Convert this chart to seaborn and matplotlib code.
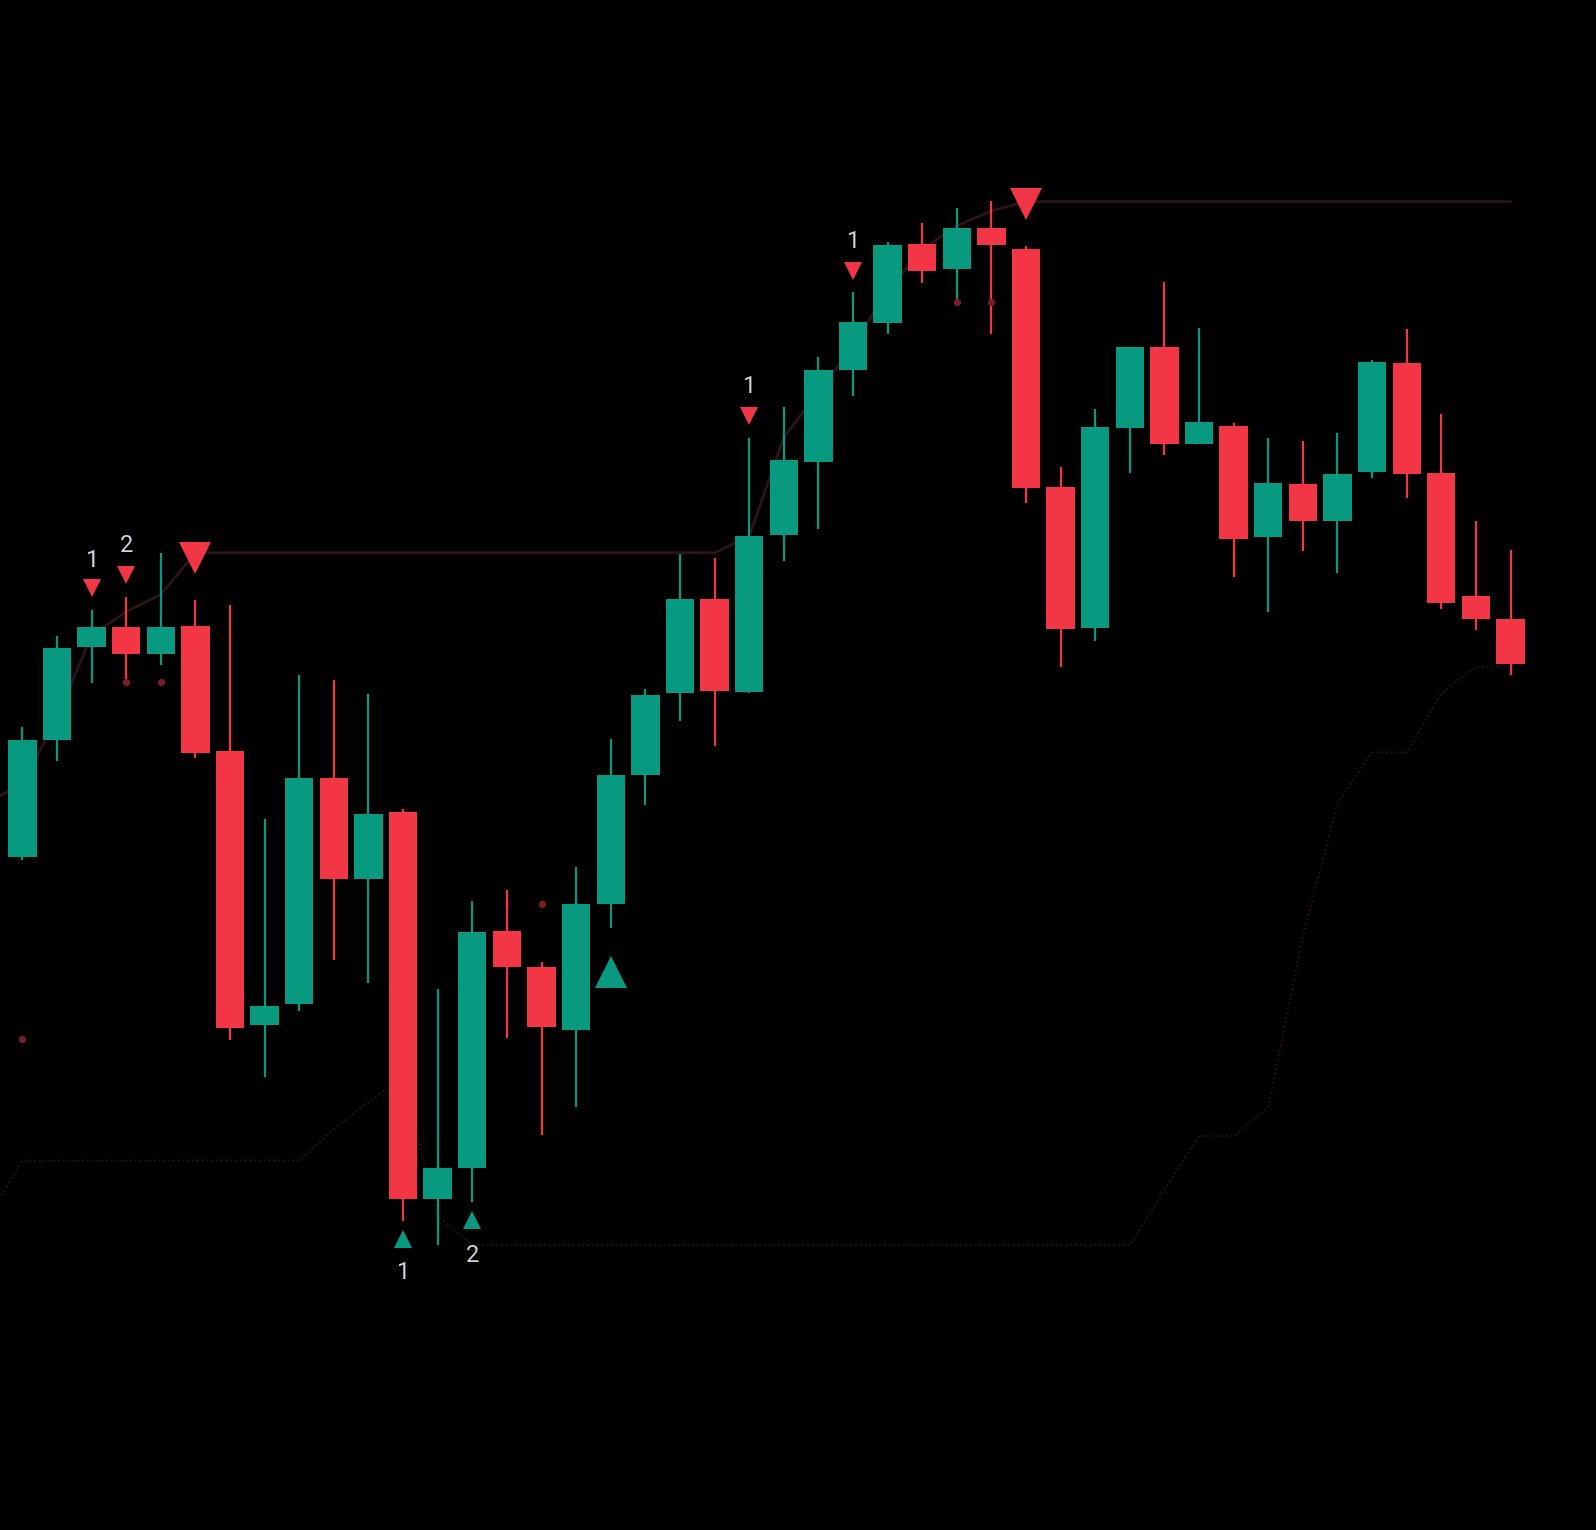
import numpy as np
import pandas as pd
import matplotlib
matplotlib.use("Agg")
import matplotlib.pyplot as plt
import seaborn as sns

# ================================
# Data
# ================================
opens = [66.1, 77.6, 86.7, 88.7, 86.1, 88.8, 76.5, 49.6, 51.7, 73.9,
         64.0, 70.5, 32.5, 35.6, 58.8, 55.3, 49.1, 61.5, 74.2, 82.2,
         91.5, 82.3, 97.7, 104.9, 114.0, 118.6, 126.3, 123.9, 127.9, 125.8,
         102.5, 88.6, 108.3, 116.2, 106.7, 108.5, 97.5, 102.8, 99.1, 103.9,
         114.6, 103.8, 91.8, 89.5]
highs = [78.9, 87.8, 90.4, 91.7, 96.0, 91.4, 90.9, 69.8, 84.0, 83.5,
         82.1, 70.8, 53.1, 61.8, 62.9, 55.8, 65.1, 77.7, 82.6, 95.9,
         95.5, 107.3, 110.3, 115.2, 121.6, 126.5, 128.4, 129.9, 130.6, 126.1,
         104.4, 110.1, 116.2, 122.6, 118.1, 108.7, 107.3, 107.0, 107.8, 114.9,
         118.0, 109.6, 99.1, 96.3]
lows = [65.8, 75.5, 83.2, 83.3, 85.0, 75.8, 48.1, 44.5, 51.0, 56.0,
        53.7, 30.4, 28.0, 32.2, 48.3, 38.8, 41.6, 59.1, 71.2, 79.5,
        77.0, 82.2, 95.2, 98.3, 111.4, 117.5, 122.5, 120.6, 117.5, 100.9,
        84.8, 87.3, 103.8, 105.6, 106.7, 93.6, 90.2, 96.2, 94.0, 103.3,
        101.4, 90.5, 88.4, 84.0]
closes = [77.6, 86.6, 88.7, 86.1, 88.7, 76.3, 49.3, 51.5, 73.9, 64.0,
          70.3, 32.5, 35.6, 58.7, 55.3, 49.4, 61.5, 74.2, 82.0, 91.5,
          82.4, 97.6, 105.1, 114.0, 118.7, 126.2, 123.7, 127.9, 126.2, 102.4,
          88.5, 108.4, 116.2, 106.7, 108.8, 97.4, 102.9, 99.1, 103.7, 114.7,
          103.7, 91.1, 89.5, 85.1]

# upper (resistance) and lower (support) trailing lines, index -1 .. 43
upper_line = [71.5, 73.3, 79.8, 87.9, 90.2, 91.9, 96.0, 96.0, 96.0, 96.0,
              96.0, 96.0, 96.0, 96.0, 96.0, 96.0, 96.0, 96.0, 96.0, 96.0,
              96.0, 96.0, 97.6, 107.3, 111.8, 116.3, 121.8, 125.8, 128.1, 129.6,
              130.5, 130.5, 130.5, 130.5, 130.5, 130.5, 130.5, 130.5, 130.5, 130.5,
              130.5, 130.5, 130.5, 130.5, 130.5]
lower_line = [30.6, 36.3, 36.3, 36.3, 36.3, 36.3, 36.3, 36.3, 36.3, 36.3,
              39.4, 42.0, 44.6, 30.8, 28.0, 28.0, 28.0, 28.0, 28.0, 28.0,
              28.0, 28.0, 28.0, 28.0, 28.0, 28.0, 28.0, 28.0, 28.0, 28.0,
              28.0, 28.0, 28.0, 28.0, 33.4, 38.7, 38.7, 41.5, 58.3, 71.4,
              76.4, 76.4, 82.2, 84.8, 84.8]

# pivot signals
small_sell_idx = [2, 3, 21, 24]
small_sell_y = [92.5, 93.8, 109.4, 123.7]
small_sell_txt = ["1", "2", "1", "1"]
small_sell_txt_y = [95.2, 96.7, 112.3, 126.6]

big_sell_idx = [5, 29]
big_sell_y = [95.5, 130.3]

small_buy_idx = [11, 13]
small_buy_y = [28.6, 30.5]
small_buy_txt = ["1", "2"]
small_buy_txt_y = [25.3, 27.0]

big_buy_idx = [17]
big_buy_y = [54.8]

dot_idx = [0, 3, 4, 15, 27, 28]
dot_y = [48.2, 83.3, 83.3, 61.5, 120.6, 120.6]
faint_dot_idx = [14, 16]
faint_dot_y = [61.5, 61.5]

GREEN = "#089981"
RED = "#f23645"
TEXT = "#d1d4dc"

df = pd.DataFrame({"open": opens, "high": highs, "low": lows, "close": closes})
df["idx"] = np.arange(len(df))
df["up"] = df["close"] >= df["open"]
df["color"] = np.where(df["up"], GREEN, RED)

lines = pd.DataFrame({"idx": np.arange(-1, len(df)),
                      "upper": upper_line, "lower": lower_line})

# ================================
# Plot
# ================================
sns.set_style("dark", {"axes.facecolor": "black", "figure.facecolor": "black"})
plt.rcParams["font.family"] = ["Roboto", "DejaVu Sans"]

fig = plt.figure(figsize=(15.96, 15.3), dpi=100)
ax = fig.add_axes([0, 0, 1, 1])
ax.set_facecolor("black")

# trailing lines
sns.lineplot(data=lines, x="idx", y="upper", ax=ax, color="#2e1318", linewidth=2.0, zorder=1)
sns.lineplot(data=lines, x="idx", y="lower", ax=ax, color="#32121a", linewidth=1.3,
             linestyle=":", zorder=1)

# candles
ax.vlines(df["idx"], df["low"], df["high"], colors=df["color"], linewidth=1.6, zorder=2)
body_lo = df[["open", "close"]].min(axis=1)
body_h = (df["close"] - df["open"]).abs()
ax.bar(df["idx"], body_h, bottom=body_lo, width=0.82, color=df["color"], linewidth=0, zorder=3)

# dots
ax.plot(dot_idx, dot_y, "o", color="#7a1d27", markersize=4.2, zorder=4, linestyle="none")
ax.plot(faint_dot_idx, faint_dot_y, "o", color="#200a0d", markersize=4.2, zorder=1, linestyle="none")

# signal markers
ax.plot(small_sell_idx, small_sell_y, "v", color=RED, markersize=13, markeredgewidth=0, linestyle="none", zorder=5)
ax.plot(big_sell_idx, big_sell_y, "v", color=RED, markersize=23, markeredgewidth=0, linestyle="none", zorder=5)
ax.plot(small_buy_idx, small_buy_y, "^", color=GREEN, markersize=13, markeredgewidth=0, linestyle="none", zorder=5)
ax.plot(big_buy_idx, big_buy_y, "^", color=GREEN, markersize=23, markeredgewidth=0, linestyle="none", zorder=5)

for i, t, y in zip(small_sell_idx, small_sell_txt, small_sell_txt_y):
    ax.text(i, y, t, color=TEXT, fontsize=17, ha="center", va="center")
for i, t, y in zip(small_buy_idx, small_buy_txt, small_buy_txt_y):
    ax.text(i, y, t, color=TEXT, fontsize=17, ha="center", va="center")

ax.set_xlim(-0.647, 45.47)
ax.set_ylim(0, 150.3)
ax.set_axis_off()

fig.savefig("out.png", dpi=100, facecolor="black")
